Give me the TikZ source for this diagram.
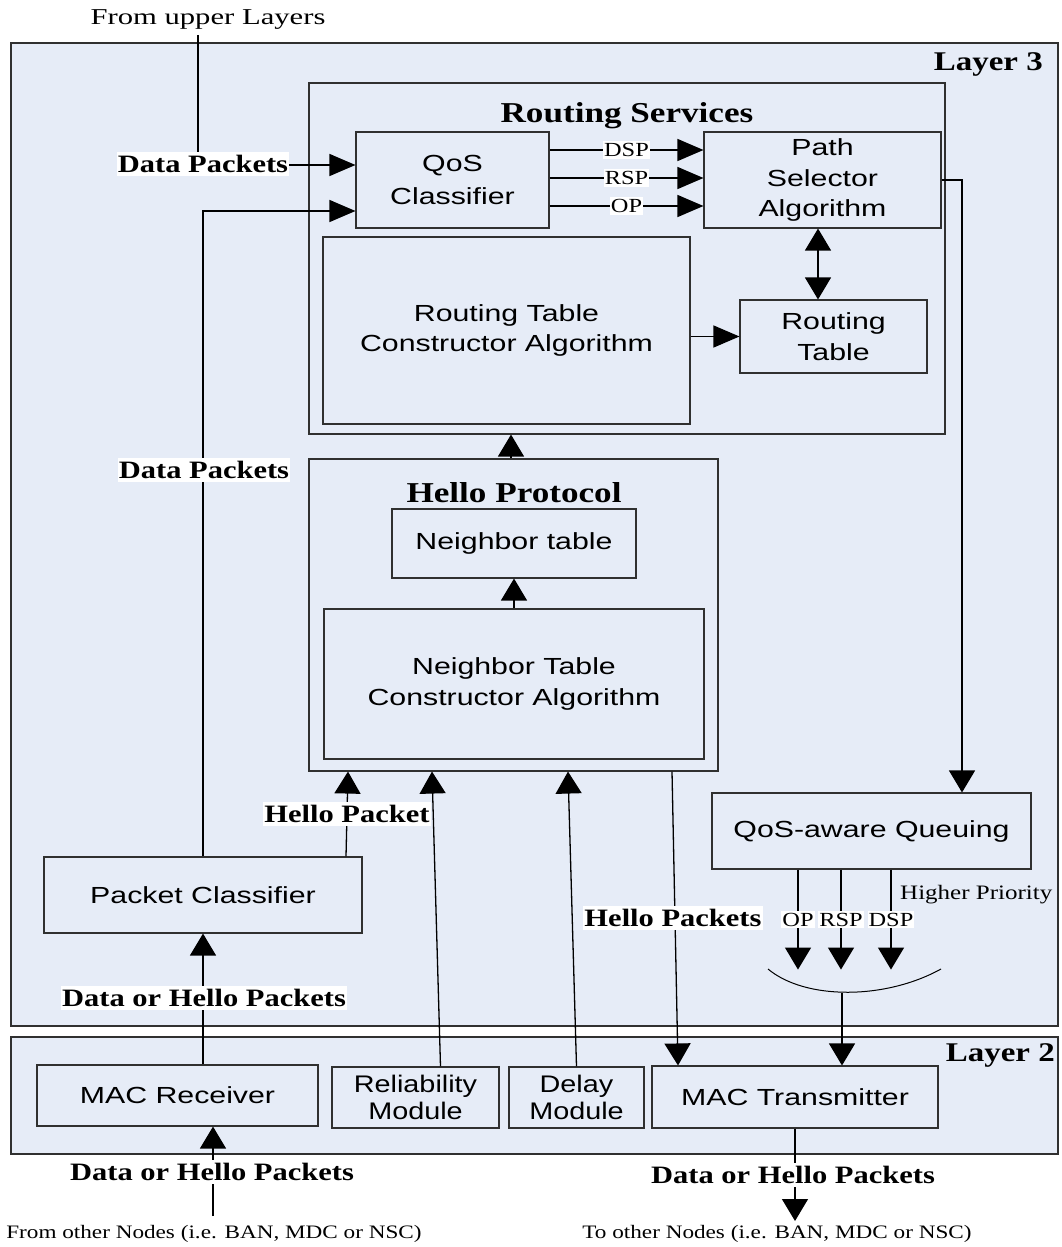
\documentclass[tikz,border=0pt]{standalone}
\usepackage{fontspec}
\setmainfont{Liberation Serif}
\newfontfamily\rmw[FakeStretch=1.22]{Liberation Serif}
\newfontfamily\rmx[FakeStretch=1.35]{Liberation Serif}
\newfontfamily\sfw[FakeStretch=1.3]{Liberation Sans}
\newfontfamily\sfn[FakeStretch=1.2]{Liberation Sans}
\usetikzlibrary{arrows.meta,calc}
\definecolor{layerfill}{HTML}{E6ECF7}
\definecolor{edge}{HTML}{303030}

\tikzset{
  frame/.style={draw=edge, line width=1.1pt, fill=layerfill, inner sep=0pt},
  blk/.style={draw=edge, line width=1.1pt, inner sep=0pt, align=center,
    font=\sfw\fontsize{23.3}{30.5}\selectfont},
  blktight/.style={blk, font=\sfn\fontsize{24}{27.5}\selectfont},
  lbl/.style={fill=white, inner xsep=1pt, inner ysep=3pt,
    font=\rmw\bfseries\fontsize{25}{28}\selectfont},
  title/.style={inner sep=0pt, font=\rmw\bfseries\fontsize{28.8}{32}\selectfont},
  lay/.style={inner sep=0pt, font=\rmw\bfseries\fontsize{27}{30}\selectfont},
  tag/.style={fill=white, inner xsep=1pt, inner ysep=2pt,
    font=\rmw\fontsize{20}{22}\selectfont},
  note/.style={inner sep=0pt, font=\rmw\fontsize{20.5}{22}\selectfont},
  ext/.style={inner sep=0pt, font=\rmw\fontsize{19}{22}\selectfont},
  top/.style={inner sep=0pt, font=\rmx\fontsize{22.7}{25}\selectfont},
  wire/.style={line width=1.3pt},
  % arrow heads are drawn wider along x than along y
  harr/.style={wire, -{Triangle[length=26pt,width=22pt]}},
  arr/.style={wire, -{Triangle[length=22pt,width=26pt]}},
  darr/.style={wire, {Triangle[length=22pt,width=26pt]}-{Triangle[length=22pt,width=26pt]}},
}

% box from its corners (x1,y1) and (x2,y2)
\newcommand{\mkbox}[7][blk]{%
  \node[#1, minimum width={#5-#3}, minimum height={#6-#4}] (#2)
    at ({(#3+#5)/2},{(#4+#6)/2}) {#7};}

\begin{document}
\begin{tikzpicture}[x=1pt,y=-1pt]
\fill[white] (0,0) rectangle (1062,1247);
\useasboundingbox (0,0) rectangle (1062,1247);

% the two layers
\mkbox[frame]{l3}{11}{43}{1058}{1026}{}
\mkbox[frame]{l2}{11}{1037}{1058}{1154}{}
\node[lay, anchor=east] (lay3) at (1043,64) {Layer 3};
\node[lay, anchor=east] (lay2) at (1055,1055) {Layer 2};

% routing services
\mkbox{rs}{309}{83}{945}{434}{}
\node[title] (rstitle) at (627,116) {Routing Services};
\mkbox[blk, font=\sfw\fontsize{23.3}{33}\selectfont]{qos}{356}{132}{549}{228}{QoS\\Classifier}
\mkbox{ps}{704}{132}{941}{228}{Path\\Selector\\Algorithm}
\mkbox{rtc}{323}{237}{690}{424}{Routing Table\\Constructor Algorithm}
\mkbox{rt}{740}{300}{927}{373}{Routing\\Table}

% hello protocol
\mkbox{hp}{309}{459}{718}{771}{}
\node[title] (hptitle) at (514,493) {Hello Protocol};
\mkbox{nt}{392}{509}{636}{578}{Neighbor table}
\mkbox{ntc}{324}{609}{704}{759}{Neighbor Table\\Constructor Algorithm}

\mkbox{pc}{44}{857}{362}{933}{Packet Classifier}
\mkbox{qq}{712}{793}{1031}{869}{QoS-aware Queuing}

% layer 2 modules
\mkbox{mr}{37}{1065}{318}{1126}{MAC Receiver}
\mkbox[blktight]{rm}{332}{1067}{499}{1128}{Reliability\\Module}
\mkbox[blktight]{dm}{509}{1067}{644}{1128}{Delay\\Module}
\mkbox{mt}{652}{1066}{938}{1128}{MAC Transmitter}

% data from upper layers
\node[top] (upper) at (208,20) {From upper Layers};
\coordinate (upin) at (198,35);
\draw[harr] (upin) |- ([yshift=15]qos.west);

% data packets from the packet classifier
\draw[harr] (pc.north) |- ([yshift=-31]qos.west);

% classes into the path selector
\foreach \dy/\t in {30/DSP, 2/RSP, -26/OP}
  \draw[harr] ([yshift=\dy]qos.east) -- ([yshift=\dy]ps.west)
    node[tag, pos=.5] (q\t) {\t};

\draw[darr] ($(ps.south)+(-4.5,0)$) -- ($(ps.south |- rt.north)+(-4.5,0)$);
\draw[harr] (rtc.east |- rt.west) -- (rt.west);
\draw[arr] ($(hp.north)+(-2.5,0)$) -- ($(hp.north |- rs.south)+(-2.5,0)$);
\draw[arr] (ntc.north) -- (nt.south);
\draw[arr] (ps.east) -| ($(qq.north)+(90.5,0)$);

% inputs of the hello protocol
\draw[arr] (pc.south |- mr.north) -- (pc.south);
\draw[arr] ($(pc.north)+(143,0)$) -- ($(hp.south)+(-165.5,0)$);
\draw[arr] ($(rm.north)+(25,0)$) -- ($(hp.south)+(-81.5,0)$);
\draw[arr] (dm.north) -- ($(hp.south)+(54.5,0)$);
\draw[arr] ($(hp.south)+(158.5,0)$) -- ($(mt.north)+(-117,0)$);

% priority queues
\foreach \dx/\t in {-73.5/OP, -30.5/RSP, 19.5/DSP}
  \draw[arr] ($(qq.south)+(\dx,0)$) -- ++(0,100) node[tag, pos=.5] (p\t) {\t};
\node[note, anchor=west] (hprio) at (900,895) {Higher Priority};

\coordinate (mL) at (768,969);
\coordinate (mR) at (941,969);
\coordinate (mB) at (842,993);
\draw[line width=1pt] (mL) .. controls (805,1000) and (885,1000) .. (mR);
\draw[arr] (mB) -- (mB |- mt.north);

% to and from other nodes
\coordinate (outend) at (797,1221);
\draw[arr] (mt.south) -- (mt.south |- outend);
\coordinate (instart) at (213,1216);
\draw[arr] (instart) -- (instart |- mr.south);
\node[ext] (tonodes) at (777,1234) {To other Nodes (i.e. BAN, MDC or NSC)};
\node[ext] (fromnodes) at (214,1234) {From other Nodes (i.e. BAN, MDC or NSC)};

% labels on the connectors
\node[lbl] (dp1) at (203,164) {Data Packets};
\node[lbl] (dp2) at (204,470) {Data Packets};
\node[lbl] (dohp1) at (204,998) {Data or Hello Packets};
\node[lbl] (hpk) at (347,814) {Hello Packet};
\node[lbl] (hpks) at (673,918) {Hello Packets};
\node[lbl] (dohp2) at (212,1172) {Data or Hello Packets};
\node[lbl] (dohp3) at (793,1175) {Data or Hello Packets};
\end{tikzpicture}
\end{document}
